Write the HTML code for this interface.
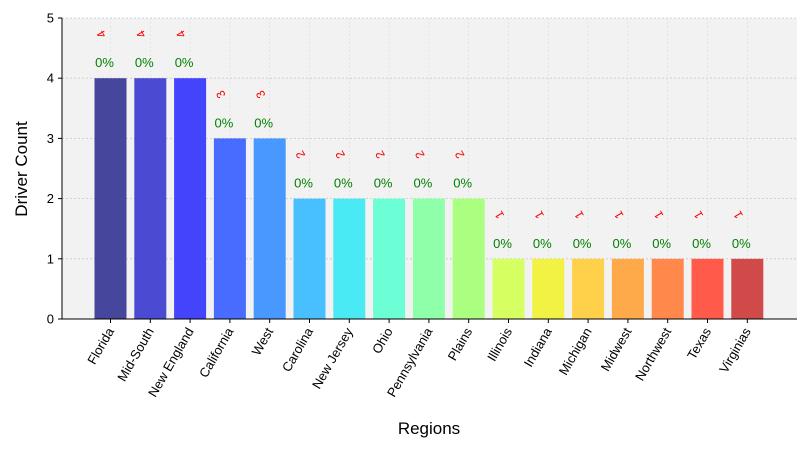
<!DOCTYPE html>
<html><head><meta charset="utf-8"><style>
body{margin:0;background:#fff;font-family:"Liberation Sans","DejaVu Sans",sans-serif}
</style></head><body>
<svg id="c" width="810" height="450" xmlns="http://www.w3.org/2000/svg"></svg>
<script>
const categories=["Florida","Mid-South","New England","California","West","Carolina","New Jersey","Ohio","Pennsylvania","Plains","Illinois","Indiana","Michigan","Midwest","Northwest","Texas","Virginias"];
const counts=[4,4,4,3,3,2,2,2,2,2,1,1,1,1,1,1,1];
const pctLabels=["0%","0%","0%","0%","0%","0%","0%","0%","0%","0%","0%","0%","0%","0%","0%","0%","0%"];
const yTicks=[0,1,2,3,4,5];
const colors=["#46469c","#4a4ad2","#4444fc","#486cff","#4898ff","#48c0ff","#4aeaf4","#6cffd6","#90ffaa","#aaff80","#d6ff62","#f2f244","#ffd04a","#ffaa4a","#ff884a","#ff5a4a","#d04a4a"];
const svg=document.getElementById('c');const NS="http://www.w3.org/2000/svg";
const L=62,R=797,T=18,B=319,yMax=5;
const xs=i=>110.5+i*39.8;
const ys=v=>B-(v/yMax)*(B-T);
function mk(t,a,p){const e=document.createElementNS(NS,t);for(const k in a)e.setAttribute(k,a[k]);(p||svg).appendChild(e);return e;}
let bg=mk('rect',{x:L,y:T,width:R-L,height:B-T,fill:'#f2f2f2'});


yTicks.forEach(v=>{
 let g=mk('line',{x1:L,x2:R,y1:ys(v),y2:ys(v),stroke:'#c8c8c8','stroke-dasharray':'2,2','stroke-width':0.8});
 
 
 mk('line',{x1:L-4,x2:L,y1:ys(v),y2:ys(v),stroke:'#000'});
 let t=mk('text',{x:L-8,y:ys(v)+4.5,'text-anchor':'end','font-size':13});t.textContent=v;
 
 
});
categories.forEach((c,i)=>{
 const x=xs(i);
 mk('line',{x1:x,x2:x,y1:T,y2:B,stroke:'#dcdcdc','stroke-dasharray':'2,2','stroke-width':0.6});
 let b=mk('rect',{x:x-16,y:ys(counts[i]),width:32,height:B-ys(counts[i]),fill:colors[i]});
 
 
 let p=mk('text',{x:x-6,y:ys(counts[i])-11,'text-anchor':'middle','font-size':13,fill:'#008000'});p.textContent=pctLabels[i];
 
 
 let ny=ys(counts[i])-40;
 let n=mk('text',{x:x-9,y:ny,'text-anchor':'middle','font-size':12,fill:'#ff0000',transform:`rotate(-120 ${x-9} ${ny-4})`});n.textContent=counts[i];
 
 
 mk('line',{x1:x,x2:x,y1:B,y2:B+4,stroke:'#000'});
 let t=mk('text',{x:x+4,y:B+12,'text-anchor':'end','font-size':13,transform:`rotate(-60 ${x+4} ${B+12})`});t.textContent=c;
 
 
});
mk('line',{x1:L,x2:L,y1:T,y2:B,stroke:'#000'});
mk('line',{x1:L,x2:R,y1:B,y2:B,stroke:'#000'});
let xl=mk('text',{x:429,y:434,'text-anchor':'middle','font-size':17});xl.textContent='Regions';


let yl=mk('text',{x:27,y:169,'text-anchor':'middle','font-size':17,transform:'rotate(-90 27 169)'});yl.textContent='Driver Count';


</script>
</body></html>
